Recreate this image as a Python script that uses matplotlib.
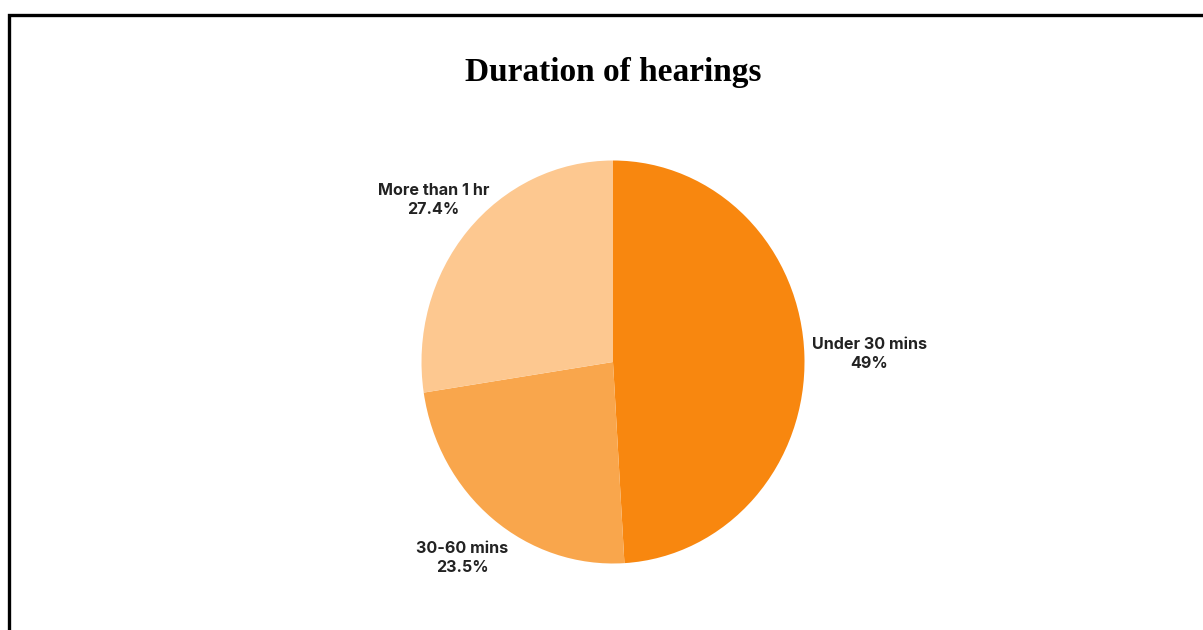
import matplotlib
matplotlib.use("Agg")
import matplotlib.pyplot as plt
from matplotlib.patches import Rectangle
import numpy as np

# Share of hearings by duration (percent)
categories = ["Under 30 mins", "30-60 mins", "More than 1 hr"]
shares = [49, 23.5, 27.4]
colors = ["#F8870F", "#F9A64C", "#FDC890"]
title = "Duration of hearings"

W, H = 1203, 630
fig = plt.figure(figsize=(W / 100, H / 100), dpi=100)
fig.patch.set_facecolor("white")

# Frame around the card (runs off the right and bottom edges)
fig.add_artist(Rectangle((9 / W, -0.2), 1.3, 1 - 15 / H + 0.2,
                         transform=fig.transFigure, fill=False,
                         edgecolor="black", linewidth=2.4))

fig.text(613 / W, 1 - 73 / H, title, ha="center", va="center",
         family="Liberation Serif", fontweight="bold", fontsize=24)

# Pie area (slightly taller than wide)
cx, cy, rx, ry = 613, 362, 191.5, 201.5
ax = fig.add_axes([(cx - rx) / W, 1 - (cy + ry) / H, 2 * rx / W, 2 * ry / H])
wedges, _ = ax.pie(shares, colors=colors, startangle=90, counterclock=False,
                   radius=1, wedgeprops=dict(linewidth=0))
ax.set_aspect("auto")
ax.set_xlim(-1, 1)
ax.set_ylim(-1, 1)
ax.axis("off")

label_r = {"Under 30 mins": 1.34, "30-60 mins": 1.25, "More than 1 hr": 1.235}
for w, cat, v in zip(wedges, categories, shares):
    mid = np.deg2rad((w.theta1 + w.theta2) / 2)
    r = label_r[cat]
    ax.text(r * np.cos(mid), r * np.sin(mid), f"{cat}\n{v:g}%",
            ha="center", va="center", family="Inter", fontweight="bold",
            fontsize=11.6, color="#222222", linespacing=1.32, clip_on=False)

fig.savefig("out.png", dpi=100, facecolor="white")
